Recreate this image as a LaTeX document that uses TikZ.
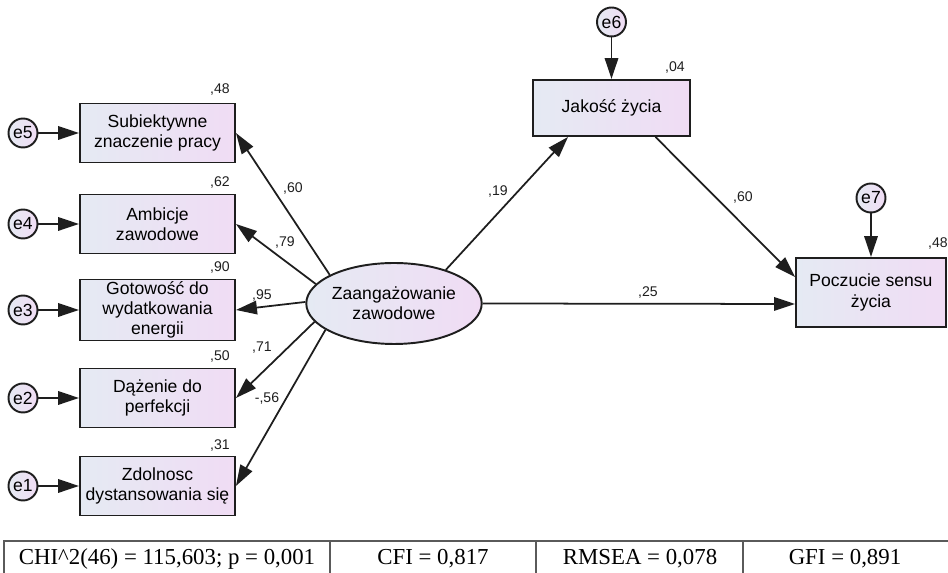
\documentclass[tikz,border=0pt]{standalone}
\usepackage{fontspec}
\setmainfont{Liberation Sans}
\newfontfamily\tabfont{Liberation Serif}
\usetikzlibrary{math,arrows.meta,shapes.geometric}

\definecolor{fillL}{RGB}{229,234,243}
\definecolor{fillR}{RGB}{240,220,244}
\definecolor{ink}{RGB}{30,30,30}
\definecolor{rulegray}{RGB}{90,90,90}

\begin{document}
\begin{tikzpicture}[x=0.02cm, y=-0.02cm,
  obs/.style={draw=ink, line width=1.1pt, left color=fillL, right color=fillR,
    minimum width=3.1cm, minimum height=1.18cm, align=center, inner sep=0pt,
    font=\fontsize{10}{11.5}\selectfont},
  err/.style={circle, draw=ink, line width=1.1pt, left color=fillL, right color=fillR,
    minimum size=0.58cm, inner sep=0pt, font=\fontsize{10}{12}\selectfont},
  coef/.style={font=\fontsize{8}{9}\selectfont, text=ink, inner sep=1pt},
  arr/.style={draw=ink, line width=1pt, -{Triangle[length=0.42cm, width=0.27cm]}},
  cell/.style={font=\tabfont\fontsize{13}{15}\selectfont, anchor=base, inner sep=0pt}]
  \tikzmath{\bx = 157.5;}
  \tikzmath{\ex = 23;}

  \useasboundingbox (0,0) rectangle (948,573);

  % indicators
  \node[obs] (s1) at (\bx,133) {Subiektywne\\znaczenie pracy};
  \node[obs] (s2) at (\bx,224) {Ambicje\\zawodowe};
  \node[obs, minimum height=1.22cm] (s3) at (\bx,310) {Gotowość do\\wydatkowania\\energii};
  \node[obs] (s4) at (\bx,398) {Dążenie do\\perfekcji};
  \node[obs] (s5) at (\bx,486) {Zdolnosc\\dystansowania się};

  % error terms of indicators
  \node[err] (e5) at (\ex,133) {e5};
  \node[err] (e4) at (\ex,224) {e4};
  \node[err] (e3) at (\ex,310) {e3};
  \node[err] (e2) at (\ex,398) {e2};
  \node[err] (e1) at (\ex,486) {e1};
  \draw[arr] (e5) -- (s1);
  \draw[arr] (e4) -- (s2);
  \draw[arr] (e3) -- (s3);
  \draw[arr] (e2) -- (s4);
  \draw[arr] (e1) -- (s5);

  % latent
  \node[ellipse, draw=ink, line width=1.1pt, left color=fillL, right color=fillR,
    minimum width=3.48cm, minimum height=1.62cm, inner sep=0pt, align=center,
    font=\fontsize{10}{11.5}\selectfont] (zz) at (394,303.5) {Zaangażowanie\\zawodowe};

  % outcomes
  \node[obs, minimum width=3.14cm, minimum height=1.12cm] (jz) at (611.5,108) {Jakość życia};
  \node[obs, minimum width=3.0cm, minimum height=1.38cm] (pz) at (871,292.5) {Poczucie sensu\\życia};
  \node[err] (e6) at (611.5,22) {e6};
  \node[err] (e7) at (871,198) {e7};
  \draw[arr] (e6) -- (jz.north);
  \draw[arr] (e7) -- (pz.north);

  % loadings
  \draw[arr] (zz.156) -- (s1.east);
  \draw[arr] (zz.166) -- (s2.east);
  \draw[arr] (zz.179) -- (s3.east);
  \draw[arr] (zz.193) -- (s4.east);
  \draw[arr] (zz.201) -- (s5.east);
  \node[coef] (c1) at (293,188) {,60};
  \node[coef] (c2) at (285,242) {,79};
  \node[coef] (c3) at (262,295) {,95};
  \node[coef] (c4) at (262,348) {,71};
  \node[coef] (c5) at (267,398) {-,56};

  % structural paths
  \draw[arr] (zz.33) -- ([xshift=-0.87cm]jz.south);
  \draw[arr] ([xshift=0.88cm]jz.south) -- ([yshift=0.31cm]pz.west);
  \draw[arr] (zz.east) -- ([yshift=-0.23cm]pz.west);
  \node[coef] (c6) at (498,192) {,19};
  \node[coef] (c7) at (743,198) {,60};
  \node[coef] (c8) at (648,292) {,25};

  % squared multiple correlations
  \node[coef] (r1) at (220,90) {,48};
  \node[coef] (r2) at (220,182) {,62};
  \node[coef] (r3) at (220,267) {,90};
  \node[coef] (r4) at (220,356) {,50};
  \node[coef] (r5) at (220,445) {,31};
  \node[coef] (r6) at (675,68) {,04};
  \node[coef] (r7) at (938,243) {,48};

  % fit table
  \draw[rulegray, line width=0.6pt] (4,573) -- (4,541) -- (948,541);
  \draw[rulegray, line width=0.6pt] (330,541) -- (330,573);
  \draw[rulegray, line width=0.6pt] (536,541) -- (536,573);
  \draw[rulegray, line width=0.6pt] (743,541) -- (743,573);
  \node[cell] (chi) at (167,565) {CHI\textasciicircum 2(46) = 115,603; p = 0,001};
  \node[cell] (cfi) at (433,565) {CFI = 0,817};
  \node[cell] (rmsea) at (640,565) {RMSEA = 0,078};
  \node[cell] (gfi) at (845,565) {GFI = 0,891};
\end{tikzpicture}
\end{document}
